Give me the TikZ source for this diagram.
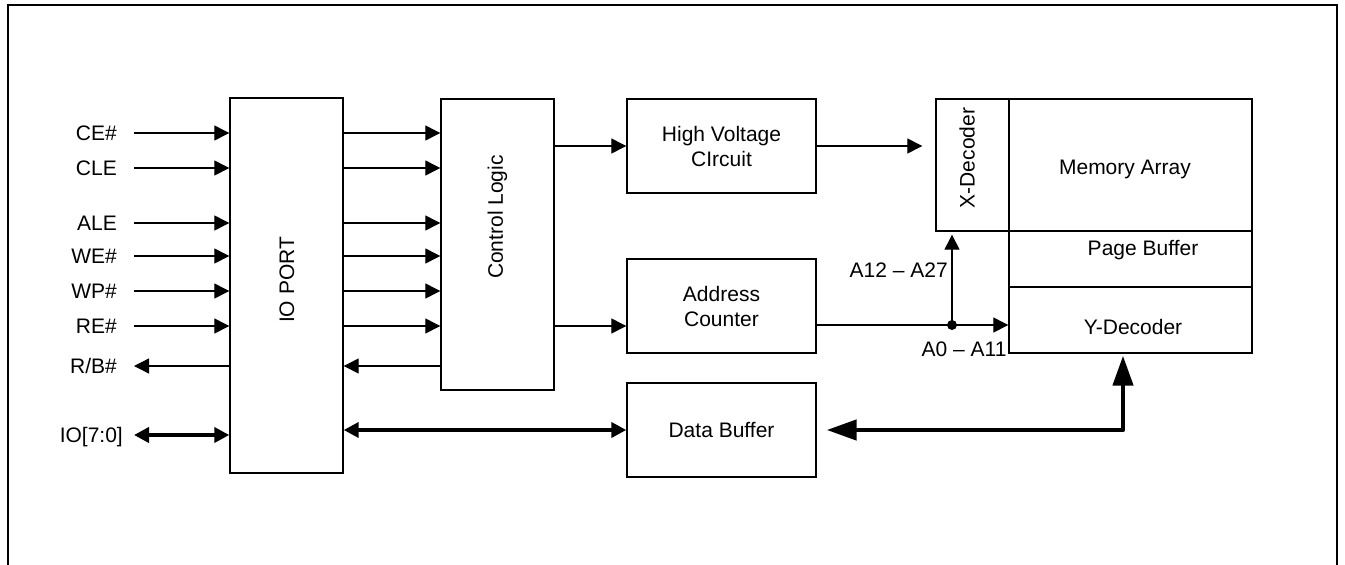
\documentclass[tikz,border=0pt]{standalone}
\usepackage{fontspec}
\setmainfont{Liberation Sans}
\usetikzlibrary{arrows.meta}
\begin{document}
\begin{tikzpicture}[x=1pt,y=-1pt,
  every node/.style={font=\fontsize{21}{25}\selectfont, inner sep=0pt},
  blk/.style={draw, line width=1.4pt},
  lbl/.style={anchor=east, inner xsep=17pt, text height=15.2pt, text depth=0pt},
  sig/.style={line width=1.3pt, -{Triangle[length=15pt,width=15pt]}},
  iobus/.style={line width=4pt, {Triangle[length=15pt,width=15pt]}-{Triangle[length=15pt,width=15pt]}},
  bigbus/.style={line width=4.5pt, line join=round, {Triangle[length=30pt,width=20pt]}-{Triangle[length=30pt,width=20pt]}},
  frame/.style={line width=1.5pt}]
\useasboundingbox (0,0) rectangle (1345,565);
\draw[frame] (8,570) -- (8,5) -- (1337,5) -- (1337,570);

% blocks
\node[blk, minimum width=113pt, minimum height=375pt] (io) at (286.5,285.5) {};
\node[rotate=90] (iotxt) at (287,280) {IO PORT};
\node[blk, minimum width=113pt, minimum height=291pt] (ctrl) at (497.5,244.5) {};
\node[rotate=90] (ctrltxt) at (497.5,217) {Control Logic};
\node[blk, minimum width=189pt, minimum height=94pt, align=center] (hv) at (721.5,146) {High Voltage\\CIrcuit};
\node[blk, minimum width=189pt, minimum height=94pt, align=center] (ac) at (721.5,306) {Address\\Counter};
\node[blk, minimum width=189pt, minimum height=94pt] (db) at (721.5,430) {Data Buffer};
\node[blk, minimum width=73pt, minimum height=132pt] (xdec) at (972.5,165) {};
\node[rotate=90] (xdectxt) at (967,158) {X-Decoder};
\node[blk, minimum width=243pt, minimum height=132pt] (mem) at (1130.5,165) {};
\node (memtxt) at (1125,169) {Memory Array};
\node[blk, minimum width=243pt, minimum height=56pt] (pb) at (1130.5,259) {};
\node (pbtxt) at (1143,250) {Page Buffer};
\node[blk, minimum width=243pt, minimum height=66pt] (ydec) at (1130.5,320) {};
\node (ydectxt) at (1133,327) {Y-Decoder};

% left labels
\node[lbl] (lce) at (134,133) {CE\#};
\node[lbl] (lcle) at (134,168) {CLE};
\node[lbl] (lale) at (134,223) {ALE};
\node[lbl] (lwe) at (134,256) {WE\#};
\node[lbl] (lwp) at (134,291) {WP\#};
\node[lbl] (lre) at (134,326) {RE\#};
\node[lbl] (lrb) at (134,366) {R/B\#};
\node[lbl, inner xsep=11pt] (lio) at (134,435) {IO[7:0]};

% inputs to IO port and to control logic
\foreach \s in {lce,lcle,lale,lwe,lwp,lre}{
  \draw[sig] (\s.east) -- (\s.east -| io.west);
  \draw[sig] (io.east |- \s.east) -- (ctrl.west |- \s.east);
}
\draw[sig] (io.west |- lrb.east) -- (lrb.east);
\draw[sig] (ctrl.west |- lrb.east) -- (io.east |- lrb.east);
\draw[iobus] (lio.east) -- (lio.east -| io.west);

% control logic outputs
\draw[sig] (ctrl.east |- hv) -- (hv.west);
\draw[sig] (ctrl.east |- lre.east) -- (ac.west |- lre.east);
\draw[sig] (hv.east) -- ([xshift=-13pt]xdec.west |- hv);

% address path
\coordinate (junc) at (952,325);
\draw[line width=1.3pt] (ac.east |- junc) -- (junc);
\draw[sig] (junc) -- (ydec.west |- junc);
\draw[sig] (junc) -- ([yshift=-3pt]xdec.south -| junc);
\fill (junc) circle (5pt);
\node[anchor=east] (a12) at (948,270) {A12 – A27};
\node (a0) at (964,349) {A0 – A11};

% data buses
\draw[iobus] (io.east |- db) -- (db.west);
\coordinate (yb) at (1123,430);
\draw[bigbus] ([xshift=10pt]db.east) -- (yb) -- ([yshift=-2pt]ydec.south -| yb);
\end{tikzpicture}
\end{document}
